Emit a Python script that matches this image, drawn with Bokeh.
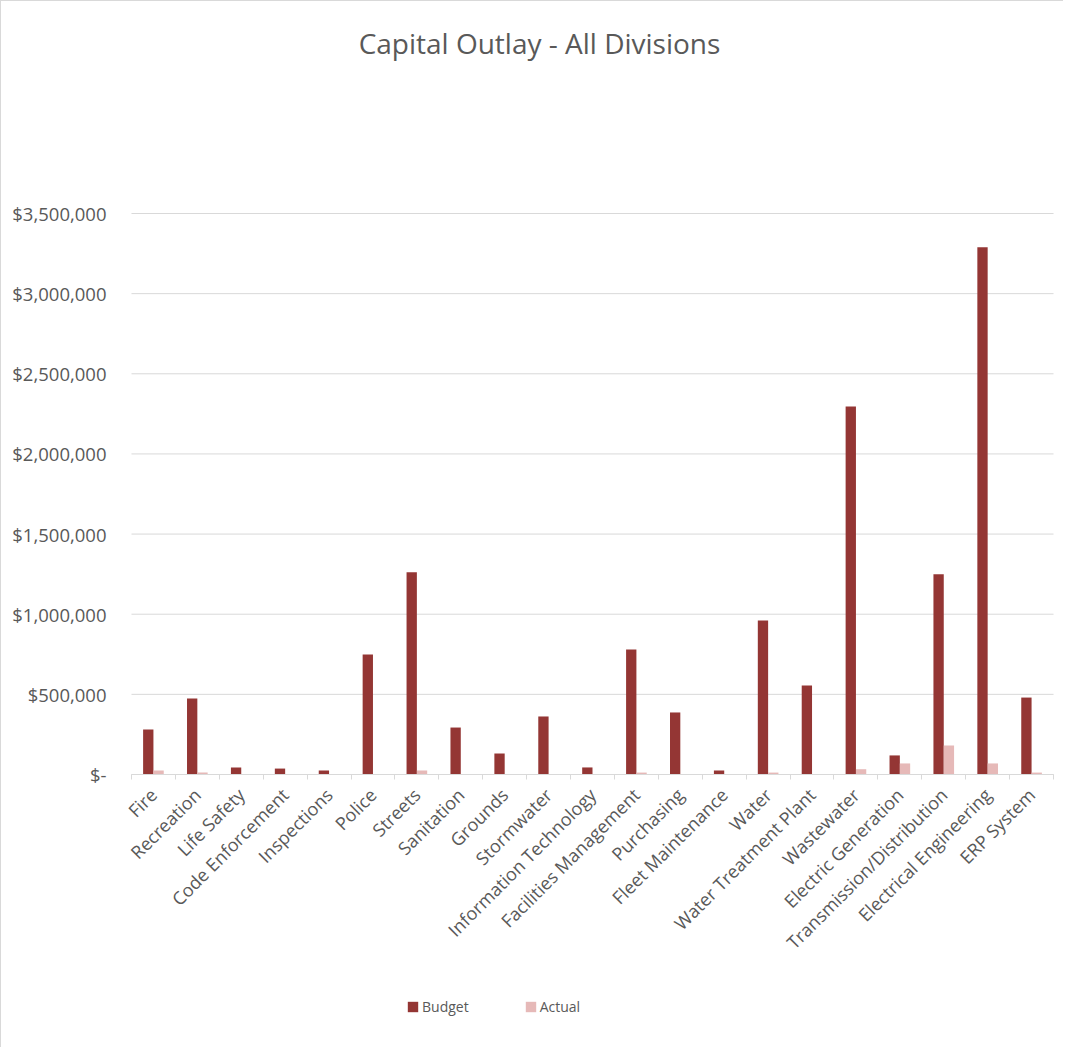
from bokeh.plotting import figure
from bokeh.models import (FactorRange, Range1d, FixedTicker, LinearAxis, CategoricalAxis,
                          Label, ColumnDataSource, Legend, LegendItem)
from bokeh.transform import dodge
from bokeh.embed import file_html
from bokeh.resources import INLINE
from math import pi

categories = ["Fire", "Recreation", "Life Safety", "Code Enforcement", "Inspections", "Police",
              "Streets", "Sanitation", "Grounds", "Stormwater", "Information Technology",
              "Facilities Management", "Purchasing", "Fleet Maintenance", "Water",
              "Water Treatment Plant", "Wastewater", "Electric Generation",
              "Transmission/Distribution", "Electrical Engineering", "ERP System"]
budget = [281000, 474000, 44000, 37000, 25000, 749000, 1262000, 293000, 131000, 362000,
          44000, 780000, 387000, 25000, 961000, 555000, 2296000, 119000, 1250000, 3290000,
          480000]
actual = [25000, 12000, 0, 0, 0, 0, 25000, 0, 0, 0, 0, 12000, 0, 0, 12000, 0, 33000,
          69000, 181000, 69000, 12000]
ytick_values = [0, 500000, 1000000, 1500000, 2000000, 2500000, 3000000, 3500000]
ytick_labels = ["$-", "$500,000", "$1,000,000", "$1,500,000", "$2,000,000",
                "$2,500,000", "$3,000,000", "$3,500,000"]
title_text = "Capital Outlay - All Divisions"
series_names = ["Budget", "Actual"]

BUDGET_COLOR = "#943634"
ACTUAL_COLOR = "#E6B9B8"
TEXT_COLOR = "#595959"
GRID_COLOR = "#D9D9D9"
FONT = "Open Sans"

# layout (pixels): the frame spans the full figure height; the value axis
# occupies the band between PLOT_TOP and PLOT_BOTTOM
FIG_W, FIG_H = 1063, 1047
PLOT_TOP, PLOT_BOTTOM = 212, 773
y_max = ytick_values[-1]
k = (PLOT_BOTTOM - PLOT_TOP) / y_max
y_range = Range1d(start=-(FIG_H - PLOT_BOTTOM) / k, end=y_max + PLOT_TOP / k)

src = ColumnDataSource(dict(div=categories, budget=budget, actual=actual))
grid_src = ColumnDataSource(dict(y=ytick_values,
                                 x0=[categories[0]] * len(ytick_values),
                                 x1=[categories[-1]] * len(ytick_values)))

p = figure(width=FIG_W, height=FIG_H, output_backend="svg", toolbar_location=None,
           x_range=FactorRange(*categories, range_padding=0.25,
                               range_padding_units="absolute"),
           y_range=y_range, x_axis_location=None,
           min_border_left=119, min_border_right=0, min_border_top=0,
           min_border_bottom=0)
p.title = None
p.styles = {"border-top": "1px solid #D9D9D9", "border-left": "1px solid #D9D9D9"}
p.outline_line_color = None
p.xgrid.grid_line_color = None
p.ygrid.grid_line_color = None

# horizontal gridlines spanning the category band only
p.segment(x0=dodge("x0", -0.5, range=p.x_range), x1=dodge("x1", 0.5, range=p.x_range),
          y0="y", y1="y", source=grid_src, line_color=GRID_COLOR, line_width=1)

# y axis
ya = p.yaxis[0]
ya.ticker = FixedTicker(ticks=ytick_values)
ya.major_label_overrides = {v: l for v, l in zip(ytick_values, ytick_labels)}
ya.axis_line_color = None
ya.major_tick_line_color = None
ya.minor_tick_line_color = None
ya.major_label_standoff = 8
ya.major_label_text_font = FONT
ya.major_label_text_font_size = "18.5px"
ya.major_label_text_color = TEXT_COLOR

# category axis line with tick marks at category boundaries
bounds = list(range(len(categories) + 1))
tick_axis = LinearAxis(ticker=FixedTicker(ticks=bounds), fixed_location=0,
                       bounds=(0, len(categories)))
tick_axis.major_label_overrides = {b: "" for b in bounds}
tick_axis.axis_line_color = GRID_COLOR
tick_axis.major_tick_line_color = GRID_COLOR
tick_axis.major_tick_in = 0
tick_axis.major_tick_out = 5
tick_axis.minor_tick_line_color = None
tick_axis.major_label_standoff = 0
p.add_layout(tick_axis, "below")

cat_axis = CategoricalAxis(fixed_location=0)
cat_axis.axis_line_color = None
cat_axis.major_tick_line_color = None
cat_axis.minor_tick_line_color = None
cat_axis.major_label_orientation = pi / 4
cat_axis.major_label_standoff = 11
cat_axis.major_label_text_font = FONT
cat_axis.major_label_text_font_size = "18px"
cat_axis.major_label_text_color = TEXT_COLOR
p.add_layout(cat_axis, "below")

w = 0.235
r1 = p.vbar(x=dodge("div", -w / 2, range=p.x_range), top="budget", width=w, source=src,
            fill_color=BUDGET_COLOR, line_color=None)
r2 = p.vbar(x=dodge("div", w / 2, range=p.x_range), top="actual", width=w, source=src,
            fill_color=ACTUAL_COLOR, line_color=None)

legend = Legend(items=[LegendItem(label=series_names[0], renderers=[r1]),
                       LegendItem(label=series_names[1], renderers=[r2])],
                location=(286, 32), orientation="horizontal")
legend.border_line_color = None
legend.background_fill_alpha = 0
legend.padding = 0
legend.margin = 0
legend.spacing = 55
legend.glyph_width = 13
legend.glyph_height = 13
legend.label_standoff = 3
legend.label_text_font = FONT
legend.label_text_font_size = "14px"
legend.label_text_color = TEXT_COLOR
legend.label_height = 14
p.add_layout(legend, "center")

title = Label(x=419, y=1006, x_units="screen", y_units="screen", text=title_text,
              text_align="center", text_baseline="middle", text_font=FONT,
              text_font_size="28px", text_color=TEXT_COLOR)
p.add_layout(title)

open("out.html", "w").write(file_html(p, INLINE))
